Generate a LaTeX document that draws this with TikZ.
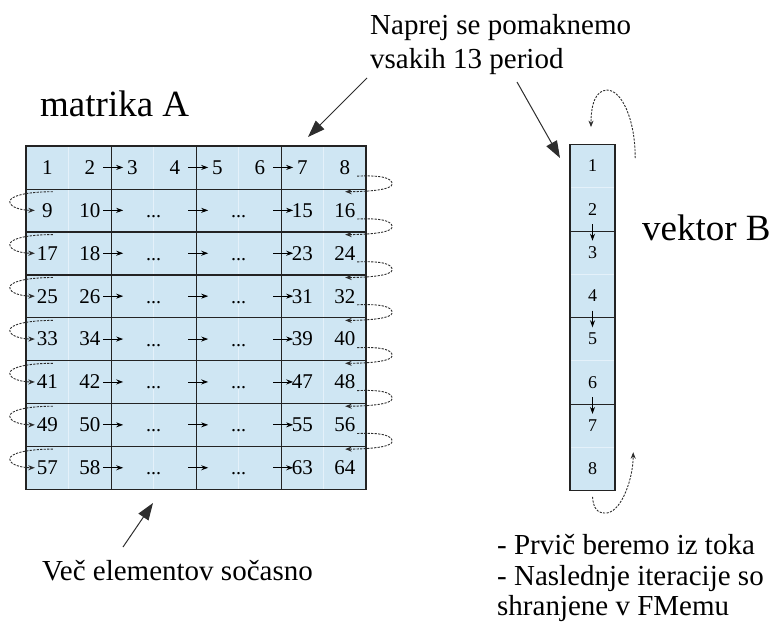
\documentclass[tikz,border=0pt]{standalone}
\usepackage{fontspec}
\setmainfont{Liberation Serif}
\usetikzlibrary{arrows.meta,calc}
\definecolor{cellblue}{RGB}{207,230,243}
\definecolor{cellline}{RGB}{228,241,250}
\definecolor{gridline}{RGB}{35,35,35}
\definecolor{inkgray}{RGB}{45,45,45}
\begin{document}
\begin{tikzpicture}[x=1pt,y=-1pt,
  cell/.style={minimum width=42.5pt,minimum height=42.9pt,inner sep=0pt,font=\fontsize{21}{23}\selectfont},
  vcell/.style={minimum width=45pt,minimum height=43.3pt,inner sep=0pt,font=\fontsize{18}{20}\selectfont},
  dotsnode/.style={anchor=base,inner sep=0pt,font=\fontsize{20}{22}\selectfont},
  flow/.style={-{Stealth[length=7pt,width=5pt]},line width=0.9pt,black},
  wrap/.style={-{Stealth[length=6.5pt,width=5pt]},line width=0.9pt,inkgray,dash pattern=on 2.2pt off 1.3pt},
  note/.style={-{Triangle[length=17pt,width=12pt]},line width=1pt,inkgray},
  bigtext/.style={anchor=base west,inner sep=0pt,font=\fontsize{37}{40}\selectfont},
  label/.style={anchor=base west,inner sep=0pt,font=\fontsize{29}{32}\selectfont},
  frame/.style={gridline,line width=1.2pt}]
\path[use as bounding box] (0,0) rectangle (776,626);

% ---------- matrix A ----------
\fill[cellblue] (26,146) rectangle (366,489.2);
\foreach \x in {68.5,153.5,238.5,323.5}
  \draw[cellline,line width=0.8pt] (\x,147) -- (\x,488.5);
\foreach \r in {1,...,8}{
  \foreach \c in {1,...,8}{
    \pgfmathtruncatemacro\n{8*(\r-1)+\c}
    \pgfmathtruncatemacro\shown{(\r==1)||(\c<3)||(\c>6)}
    \pgfmathsetmacro\cx{26+42.5*(\c-0.5)}
    \pgfmathsetmacro\cy{146+42.9*(\r-0.5)}
    \node[cell] (a-\r-\c) at (\cx,\cy) {\ifnum\shown=1 \n\fi};
  }
}
\foreach \r in {2,...,8}{
  \pgfmathsetmacro\cy{146+42.9*(\r-0.5)+7}
  \node[dotsnode] (d-\r-1) at (153.5,\cy) {...};
  \node[dotsnode] (d-\r-2) at (238.5,\cy) {...};
}
\draw[frame] (26,146) rectangle (366,489.2);
\foreach \r in {1,...,7}
  \draw[frame] (a-\r-1.south west) -- (a-\r-8.south east);
\foreach \c in {2,4,6}
  \draw[frame] (a-1-\c.north east) -- (a-8-\c.south east);

% horizontal steps between blocks
\foreach \r in {1,...,8}
  \foreach \k in {2,4,6}
    \draw[flow] ([xshift=-8pt]a-\r-\k.east) -- ([xshift=12pt]a-\r-\k.east);

% wrap-around from the end of a row to the start of the next
\foreach \r in {1,...,7}{
  \pgfmathtruncatemacro\rn{\r+1}
  \coordinate (rs-\r) at ([xshift=-9pt,yshift=13pt]a-\r-8.south east);
  \coordinate (re-\r) at ([xshift=-21pt,yshift=-3pt]a-\rn-8.north east);
  \draw[wrap] (rs-\r) .. controls +(25,-1) and +(0,-6) .. ++(35,8)
              .. controls +(0,6) and +(20,0) .. (re-\r);
  \coordinate (ls-\rn) at ([xshift=27pt,yshift=-3pt]a-\rn-1.north west);
  \coordinate (le-\rn) at ([xshift=9pt]a-\rn-1.west);
  \draw[wrap] (ls-\rn) .. controls +(-25,0) and +(0,-6) .. ++(-43,10)
              .. controls +(0,6) and +(-12,0) .. (le-\rn);
}

% ---------- vector B ----------
\fill[cellblue] (570,144.3) rectangle (615,490.7);
\foreach \y in {187.6,274.2,360.8,447.4}
  \draw[cellline,line width=0.8pt] (571,\y) -- (614,\y);
\foreach \i in {1,...,8}{
  \pgfmathsetmacro\cy{144.3+43.3*(\i-0.5)}
  \node[vcell] (v-\i) at (592.5,\cy) {\i};
}
\draw[frame] (570,144.3) rectangle (615,490.7);
\foreach \i in {2,4,6}
  \draw[frame] (v-\i.south west) -- (v-\i.south east);
\foreach \i/\j in {2/3,4/5,6/7}
  \draw[flow] ([yshift=7pt]v-\i.south) -- ([yshift=-10pt]v-\j.north);

% re-reading loops at both ends of the vector
\coordinate (vt-s) at ([xshift=20pt,yshift=-14pt]v-1.north east);
\coordinate (vt-e) at ([xshift=-1.5pt,yshift=17pt]v-1.north);
\draw[wrap] (vt-s) .. controls +(0,-40) and +(14,0) .. ++(-28,-68)
            .. controls +(-12,0) and +(0,-22) .. (vt-e);
\coordinate (vb-s) at ([yshift=-6pt]v-8.south);
\coordinate (vb-e) at ([xshift=18pt,yshift=38.7pt]v-8.south east);
\draw[wrap] (vb-s) .. controls +(1,12) and +(-10,1) .. ++(15,16)
            .. controls +(15,-3) and +(0,25) .. (vb-e);

% ---------- labels ----------
\node[bigtext] (tA) at (40,116) {matrika A};
\node[bigtext] (tB) at (642,240) {vektor B};
\node[label] (nap1) at (370,35) {Naprej se pomaknemo};
\node[label] (nap2) at (370,68) {vsakih 13 period};
\node[label] (vec) at (42,580) {Več elementov sočasno};
\node[label] (pr1) at (497,554) {- Prvič beremo iz toka};
\node[label] (pr2) at (497,585) {- Naslednje iteracije so};
\node[label] (pr3) at (497,615) {shranjene v FMemu};

\coordinate (nA) at ([xshift=-3pt,yshift=-10pt]nap2.base west);
\coordinate (tipA) at (308,137);
\coordinate (nB) at ([xshift=147pt,yshift=-14pt]nap2.base west);
\coordinate (tipB) at (560,158);
\coordinate (vS) at ([xshift=81pt,yshift=33pt]vec.base west);
\coordinate (tipV) at (153,503);
\draw[note] (nA) -- (tipA);
\draw[note] (nB) -- (tipB);
\draw[note] (vS) -- (tipV);
\end{tikzpicture}
\end{document}
